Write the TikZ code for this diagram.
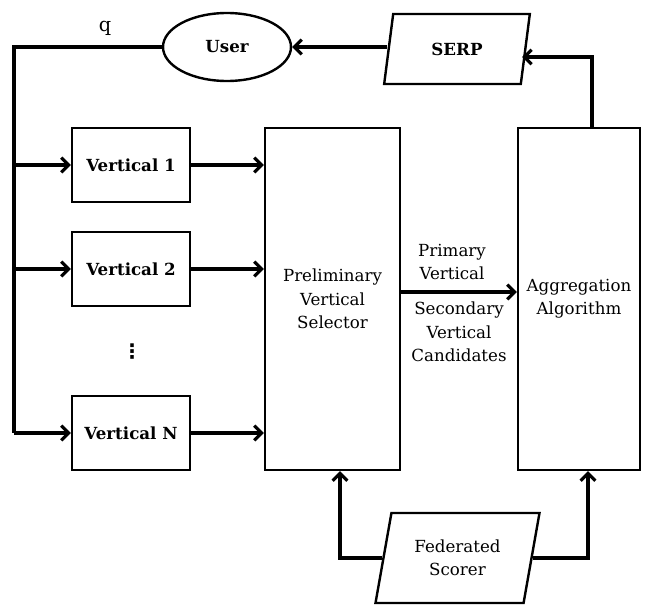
\documentclass[tikz,border=0pt]{standalone}
\usepackage{fontspec}
\setmainfont{DejaVu Serif}
\newfontfamily\symfont{DejaVu Sans}
\usetikzlibrary{arrows.meta,shapes.geometric}
\begin{document}
\begin{tikzpicture}[x=0.75pt,y=-0.75pt,
  conn/.style={line width=2.4pt,-{Straight Barb[length=5.5pt,width=11pt,line width=2.4pt]}},
  line/.style={line width=2.4pt},
  box/.style={draw,line width=1.8pt,inner sep=0pt,align=center,font=\fontsize{12.5}{17.5}\selectfont},
  vbox/.style={box,minimum width=88.5pt,minimum height=55.5pt,font=\fontsize{12.5}{17.5}\selectfont\bfseries},
  para/.style={box,trapezium,trapezium left angle=74,trapezium right angle=106,trapezium stretches=true}]
\useasboundingbox (0,0) rectangle (654,604);
% nodes
\node[box,ellipse,minimum width=96pt,minimum height=51pt,font=\fontsize{12.5}{17.5}\selectfont\bfseries] (user) at (227,47) {User};
\node[para,minimum width=109.5pt,minimum height=52.5pt,font=\fontsize{12.5}{17.5}\selectfont\bfseries] (serp) at (457,49) {SERP};
\node[vbox] (v1) at (131,165) {Vertical 1};
\node[vbox] (v2) at (131,269) {Vertical 2};
\node[vbox] (vn) at (131,433) {Vertical N};
\node[font=\fontsize{15}{15}\selectfont\symfont\bfseries] (dots) at (132,352) {⋮};
\node[box,minimum width=101.25pt,minimum height=256.5pt] (sel) at (332.5,299) {Preliminary\\Vertical\\Selector};
\node[box,minimum width=91.5pt,minimum height=256.5pt] (agg) at (579,299) {Aggregation\\Algorithm};
\node[para,minimum width=123.75pt,minimum height=67.5pt] (fed) at (457.5,558) {Federated\\Scorer};
\node[font=\fontsize{14.5}{15}\selectfont] (q) at (105,28) {q};
\node[align=center,font=\fontsize{12.5}{17.5}\selectfont] (prim) at (452,262) {Primary\\Vertical};
\node[align=center,font=\fontsize{12.5}{17.5}\selectfont] (sec) at (459,332) {Secondary\\Vertical\\Candidates};
% coordinates
\coordinate (lt) at (14,47);
\coordinate (lb) at (14,433);
\coordinate (atop) at (592,128);
\coordinate (ac) at (592,57);
\coordinate (se) at (522,57);
\coordinate (fl) at (340,558);
\coordinate (fr) at (588,558);
% connectors
\draw[line] (user.west) -- (lt) -- (lb);
\draw[conn] (v1.west -| lt) -- (v1.west);
\draw[conn] (v2.west -| lt) -- (v2.west);
\draw[conn] (vn.west -| lt) -- (vn.west);
\draw[conn] (v1.east) -- (v1.east -| sel.west);
\draw[conn] (v2.east) -- (v2.east -| sel.west);
\draw[conn] (vn.east) -- (vn.east -| sel.west);
\draw[conn] (sel.east |- 0,292) -- (agg.west |- 0,292);
\draw[conn] (serp.west |- user.east) -- (user.east);
\draw[conn] (atop) -- (ac) -- (se);
\draw[conn] (fed.west |- fl) -- (fl) -- (fl |- sel.south);
\draw[conn] (fed.east |- fr) -- (fr) -- (fr |- agg.south);
\end{tikzpicture}
\end{document}
